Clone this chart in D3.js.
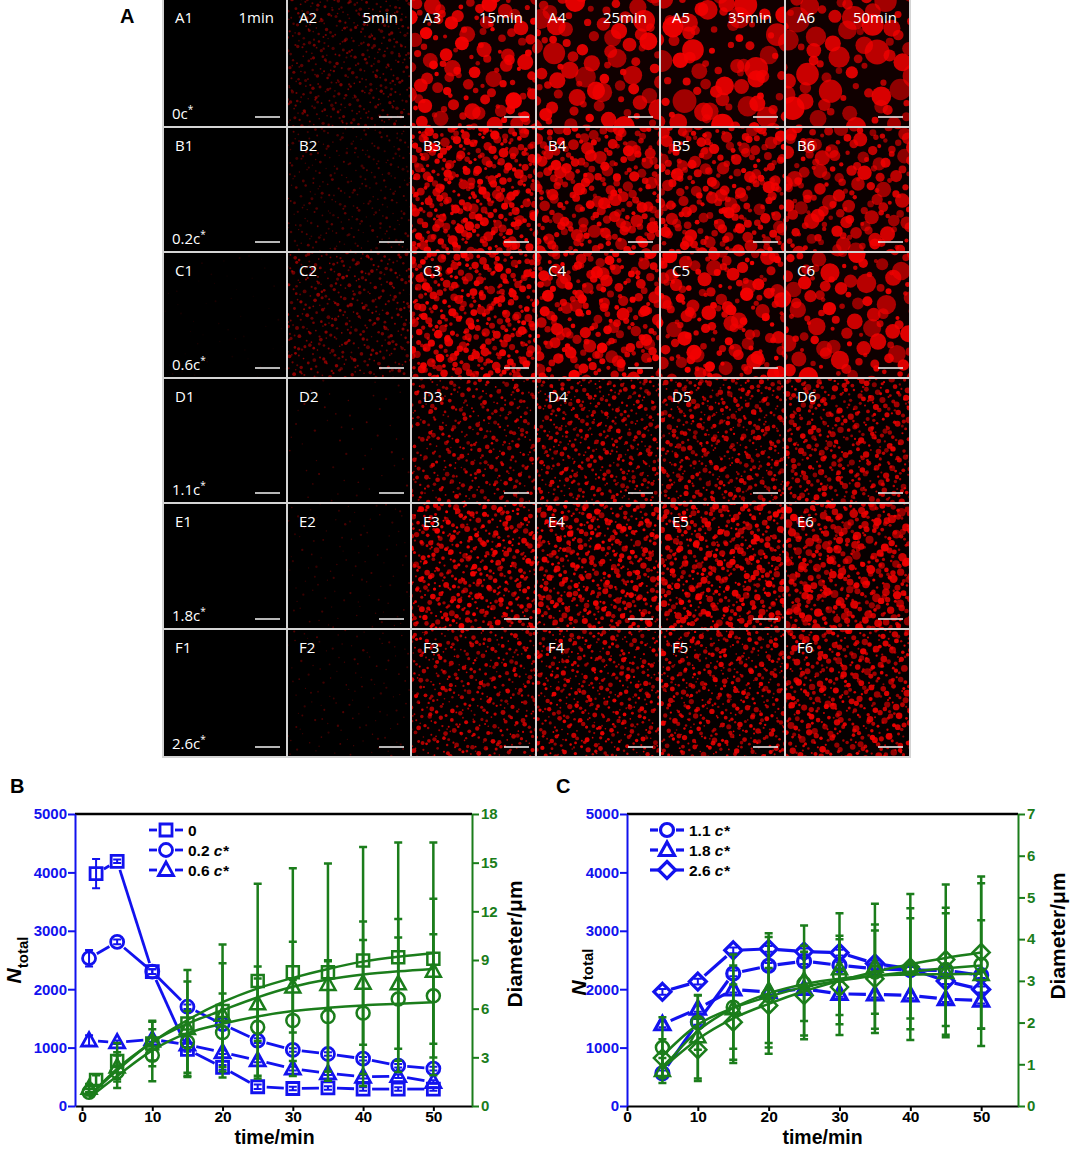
<!DOCTYPE html>
<html><head><meta charset="utf-8">
<script src="https://cdn.jsdelivr.net/npm/d3@7"></script>
<style>body{margin:0;background:#fff}svg{display:block}</style>
</head><body>
<svg id="fig" width="1072" height="1149"></svg>
<script>
// ================= DATA =================
// Panel A (micrographs)
const rowLetters = ["A","B","C","D","E","F"];
const timeLabels = ["1min","5min","15min","25min","35min","50min"];
const concLabels = ["0","0.2","0.6","1.1","1.8","2.6"];
// droplet appearance per image (rows A..F, columns 1..6)
const dropCount = [[0,500,125,85,78,70],[0,350,360,240,230,165],[60,450,380,220,165,105],[0,60,430,520,520,470],[0,120,520,520,520,430],[0,150,470,520,520,470]];
const dropMinR  = [[0,0.8,2,3,3,3],[0,0.7,1.5,2,2,2],[0.5,0.8,1.5,2,2,2],[0,0.7,0.8,0.8,0.8,1],[0,0.6,1,1,1,1.2],[0,0.6,0.8,0.8,0.8,1]];
const dropMaxR  = [[0,1.8,8.5,11,12,13],[0,1.5,5,6.5,6.5,8],[1,2,4.5,6.5,8,10],[0,1.2,2.5,2.5,2.8,3.2],[0,1.2,3,3.2,3.5,4.5],[0,1.2,2.5,2.6,2.8,3.5]];
const dropAlpha = [[0,0.5,1,0.95,0.95,0.9],[0,0.4,1,0.95,0.95,0.9],[0.12,0.6,1,1,1,0.95],[0,0.35,0.85,0.9,0.9,0.9],[0,0.3,1,1,1,0.95],[0,0.35,0.9,0.95,0.95,0.95]];

// Panel B
const tB   = [1,5,10,15,20,25,30,35,40,45,50];
const tB0  = [2,5,10,15,20,25,30,35,40,45,50];
const nB0  = [3980,4190,2300,970,660,330,300,310,290,290,290];
const nB02 = [2530,2810,2300,1700,1400,1120,960,890,810,690,640];
const nB06 = [1120,1090,1140,1050,920,780,640,560,500,510,410];
const nErrB0  = [250,30,40,40,40,40,30,30,30,30,30];
const nErrB02 = [140,40,40,40,40,40,30,30,30,30,30];
const nErrB06 = [90,30,40,40,30,30,30,30,30,30,30];
const dB0  = [1.6,2.78,3.85,5.08,5.85,7.7,8.25,8.25,8.97,9.17,9.07];
const dB02 = [0.85,2.11,3.13,3.95,4.53,4.86,5.27,5.52,5.73,6.59,6.79];
const dB06 = [1.1,2.41,4.0,4.77,5.6,6.3,7.33,7.49,7.57,7.53,8.31];
const dErrB0  = [0.3,1.1,1.4,3.3,4.1,6.0,6.4,6.7,7.0,7.07,7.17];
const dErrB02 = [0.2,1.0,1.6,1.9,2.4,3.0,2.5,3.4,4.5,3.8,3.8];
const dErrB06 = [0.25,0.9,1.2,2.9,3.2,2.3,2.8,1.5,3.8,4.0,4.47];
const fitTB  = [1,5,10,15,20,25,30,35,40,45,50];
const fitB0  = [0.6,2.3,3.94,5.3,6.4,7.25,7.9,8.45,8.9,9.2,9.42];
const fitB02 = [0.5,1.85,3.43,4.49,5.07,5.52,5.85,6.05,6.2,6.3,6.4];
const fitB06 = [0.6,2.2,3.94,5.07,5.9,6.7,7.35,7.8,8.1,8.3,8.45];

// Panel C
const tC   = [5,10,15,20,25,30,35,40,45,50];
const nC11 = [560,1440,2270,2400,2480,2410,2350,2330,2320,2240];
const nC18 = [1400,1665,1995,1950,2005,1920,1910,1895,1830,1805];
const nC26 = [1955,2130,2665,2690,2645,2625,2440,2350,2140,1995];
const nErrC = [50,50,50,50,50,50,50,50,50,50];
const dC11 = [1.40,2.0,2.37,2.65,2.94,3.13,3.21,3.29,3.27,3.39];
const dC18 = [0.85,1.66,2.33,2.77,3.01,3.29,3.35,3.3,3.2,3.15];
const dC26 = [1.15,1.35,2.01,2.41,2.65,2.85,3.05,3.33,3.51,3.68];
const dErrC11 = [0.73,0.65,1.0,1.4,0.9,0.95,1.0,1.45,1.35,1.95];
const dErrC18 = [0.3,1.0,1.3,1.37,1.32,1.33,1.5,1.2,1.55,1.3];
const dErrC26 = [0.45,0.75,0.9,0.9,1.05,1.15,1.3,1.75,1.8,1.82];
const fitC11 = [1.2,1.95,2.35,2.62,2.85,3.0,3.12,3.22,3.3,3.37];
const fitC18 = [0.9,1.8,2.35,2.7,2.92,3.05,3.12,3.15,3.16,3.17];
const fitC26 = [0.9,1.6,2.1,2.45,2.75,3.0,3.22,3.4,3.55,3.68];

const timeTicks = [0,10,20,30,40,50];
const nTicks = [0,1000,2000,3000,4000,5000];
const dTicksB = [0,3,6,9,12,15,18];
const dTicksC = [0,1,2,3,4,5,6,7];

// ================= DRAWING =================
const svg = d3.select("#fig");
const BLUE = "#1212ee", GREEN = "#1b7d1b";
const FONT = "'Liberation Sans', Arial, Helvetica, sans-serif";
const defs = svg.append("defs");

// ---- Panel A ----
const xEdges = [163, 287, 411, 536, 660, 785, 910];
const yEdges = [0, 127, 252, 378, 503, 629, 757];
svg.append("rect").attr("x",xEdges[0]-1).attr("y",0).attr("width",xEdges[6]-xEdges[0]+2).attr("height",yEdges[6]+1).attr("fill","#d4d4d4");

function halton(i, b){ let f=1, r=0; while(i>0){ f/=b; r+=f*(i%b); i=Math.floor(i/b);} return r; }

const gA = svg.append("g");
rowLetters.forEach((L, r) => {
  for (let c = 0; c < 6; c++) {
    const x0 = xEdges[c]+1, x1 = xEdges[c+1]-1, y0 = yEdges[r]+(r===0?0:1), y1 = yEdges[r+1]-1;
    const w = x1-x0, h = y1-y0;
    const id = "clip"+r+"_"+c;
    defs.append("clipPath").attr("id",id).append("rect").attr("x",x0).attr("y",y0).attr("width",w).attr("height",h);
    const cell = gA.append("g");
    cell.append("rect").attr("x",x0).attr("y",y0).attr("width",w).attr("height",h).attr("fill","#000");
    const n = dropCount[r][c];
    if (n > 0) {
      const off = (r*6+c)*1013 + 37;
      const drops = d3.range(n).map(i => {
        const k = i + off;
        return {x: x0 - 6 + halton(k,2)*(w+12), y: y0 - 6 + halton(k,3)*(h+12),
                r: dropMinR[r][c] + (dropMaxR[r][c]-dropMinR[r][c]) * Math.pow(halton(k,5),1.6),
                a: 0.6 + 0.4*halton(k,7)};
      });
      const haze = dropAlpha[r][c] * Math.min(1, dropMaxR[r][c]/12) * 0.15;
      cell.append("rect").attr("x",x0).attr("y",y0).attr("width",w).attr("height",h).attr("fill","#7a0000").attr("opacity",haze);
      cell.append("g").attr("clip-path",`url(#${id})`).selectAll("circle").data(drops).join("circle")
        .attr("cx",d=>d.x).attr("cy",d=>d.y).attr("r",d=>d.r)
        .attr("fill","#f40000").attr("opacity",d=>dropAlpha[r][c]*d.a);
    }
    // label
    cell.append("text").attr("x",x0+11).attr("y",y0+23).attr("fill","#fff")
      .attr("font-family","'Open Sans', 'DejaVu Sans', sans-serif").attr("font-size",15).text(L+(c+1));
    if (r === 0) {
      cell.append("text").attr("x",x1-12).attr("y",y0+23).attr("text-anchor","end").attr("fill","#fff")
        .attr("font-family","'Open Sans', 'DejaVu Sans', sans-serif").attr("font-size",15).text(timeLabels[c]);
    }
    if (c === 0) {
      const t = cell.append("text").attr("x",x0+8).attr("y",y1-7).attr("fill","#fff")
        .attr("font-family","'Open Sans', 'DejaVu Sans', sans-serif").attr("font-size",15);
      t.append("tspan").text(concLabels[r]+"c");
      t.append("tspan").attr("dy",-6).attr("font-size",10).text("*");
    }
    cell.append("line").attr("x1",x1-31).attr("x2",x1-6).attr("y1",y1-9).attr("y2",y1-9)
      .attr("stroke","#e6e6e6").attr("stroke-width",1.6);
  }
});
svg.append("text").attr("x",120).attr("y",23).attr("font-family",FONT).attr("font-weight","bold").attr("font-size",20).text("A");

// ---- Markers ----
function shapePath(s){
  if (s==="square") return "M-6,-6H6V6H-6Z";
  if (s==="circle") return "M6.5,0A6.5,6.5 0 1,1 -6.5,0A6.5,6.5 0 1,1 6.5,0Z";
  if (s==="triangle") return "M0,-8L7.5,5.5L-7.5,5.5Z";
  return "M0,-8.5L8.5,0L0,8.5L-8.5,0Z";
}

function chart(cfg){
  const g = svg.append("g");
  const x = d3.scaleLinear().domain(cfg.xDom).range([cfg.L, cfg.R]);
  const yN = d3.scaleLinear().domain([0,5000]).range([cfg.B, cfg.T]);
  const yD = d3.scaleLinear().domain([0,cfg.dMax]).range([cfg.B, cfg.T]);

  // axes
  const ab = g.append("g").attr("transform",`translate(0,${cfg.B})`)
    .call(d3.axisBottom(x).tickValues(timeTicks).tickFormat(d3.format("d")).tickSize(5).tickSizeOuter(0).tickPadding(0));
  ab.selectAll("path,line").attr("stroke","#000").attr("stroke-width",2);
  ab.selectAll("text").attr("fill","#000").attr("font-family",FONT).attr("font-weight","bold").attr("font-size",15.5);
  g.append("line").attr("x1",cfg.L).attr("x2",cfg.R).attr("y1",cfg.T).attr("y2",cfg.T).attr("stroke","#000").attr("stroke-width",2.5);

  const al = g.append("g").attr("transform",`translate(${cfg.L},0)`)
    .call(d3.axisLeft(yN).tickValues(nTicks).tickFormat(d3.format("d")).tickSize(7).tickSizeOuter(0).tickPadding(1));
  al.selectAll("path,line").attr("stroke",BLUE).attr("stroke-width",2);
  al.selectAll("text").attr("fill",BLUE).attr("font-family",FONT).attr("font-weight","bold").attr("font-size",15);

  const ar = g.append("g").attr("transform",`translate(${cfg.R},0)`)
    .call(d3.axisRight(yD).tickValues(cfg.dTicks).tickFormat(d3.format("d")).tickSize(7).tickSizeOuter(0).tickPadding(2));
  ar.selectAll("path,line").attr("stroke",GREEN).attr("stroke-width",2);
  ar.selectAll("text").attr("fill",GREEN).attr("font-family",FONT).attr("font-weight","bold").attr("font-size",15);

  // axis titles
  g.append("text").attr("x",(cfg.L+cfg.R)/2+cfg.xtDx).attr("y",1144).attr("text-anchor","middle")
    .attr("font-family",FONT).attr("font-weight","bold").attr("font-size",19.5).text("time/min");
  const ny = g.append("text").attr("transform",`translate(${cfg.nx},${cfg.ny}) rotate(-90)`).attr("text-anchor","middle")
    .attr("font-family",FONT).attr("font-weight","bold");
  ny.append("tspan").attr("font-style","italic").attr("font-size",21).text("N");
  ny.append("tspan").attr("font-size",15).attr("dy",7).text("total");
  g.append("text").attr("transform",`translate(${cfg.dx},${cfg.dy}) rotate(-90)`).attr("text-anchor","middle")
    .attr("font-family",FONT).attr("font-weight","bold").attr("font-size",21).text("Diameter/\u03bcm");
  g.append("text").attr("x",cfg.labX).attr("y",793).attr("font-family",FONT).attr("font-weight","bold").attr("font-size",20).text(cfg.label);

  // blue series (N_total)
  cfg.series.forEach(s => {
    const pts = s.t.map((t,i)=>({x:x(t), y:yN(s.n[i]), e:s.nErr[i], v:s.n[i]}));
    const gap = 9;
    for (let i=0;i<pts.length-1;i++){
      const p=pts[i], q=pts[i+1];
      const dx=q.x-p.x, dy=q.y-p.y, d=Math.hypot(dx,dy);
      if (d <= 2*gap+1) continue;
      const ux=dx/d, uy=dy/d;
      g.append("line").attr("x1",p.x+ux*gap).attr("y1",p.y+uy*gap).attr("x2",q.x-ux*gap).attr("y2",q.y-uy*gap)
        .attr("stroke",BLUE).attr("stroke-width",cfg.blueW);
    }
    pts.forEach(p => {
      const yt=yN(p.v+p.e), yb=yN(p.v-p.e);
      g.append("path").attr("d",`M${p.x},${yt}V${yb}M${p.x-4},${yt}H${p.x+4}M${p.x-4},${yb}H${p.x+4}`)
        .attr("stroke",BLUE).attr("stroke-width",2).attr("fill","none");
      g.append("path").attr("transform",`translate(${p.x},${p.y})`).attr("d",shapePath(s.shape))
        .attr("fill","none").attr("stroke",BLUE).attr("stroke-width",cfg.blueW);
    });
  });

  // green series (diameter)
  const line = d3.line().x(d=>x(d[0])).y(d=>yD(d[1])).curve(d3.curveMonotoneX);
  cfg.series.forEach(s => {
    s.t.forEach((t,i) => {
      const xx=x(t), yt=yD(s.d[i]+s.dErr[i]), yb=yD(Math.max(0,s.d[i]-s.dErr[i]));
      g.append("path").attr("d",`M${xx},${yt}V${yb}M${xx-4},${yt}H${xx+4}M${xx-4},${yb}H${xx+4}`)
        .attr("stroke",GREEN).attr("stroke-width",2.5).attr("fill","none");
    });
  });
  cfg.series.forEach(s => {
    g.append("path").attr("d",line(s.fitT.map((t,i)=>[t,s.fit[i]]))).attr("fill","none")
      .attr("stroke",GREEN).attr("stroke-width",2.5);
  });
  cfg.series.forEach(s => {
    s.t.forEach((t,i) => {
      g.append("path").attr("transform",`translate(${x(t)},${yD(s.d[i])})`).attr("d",shapePath(s.shape))
        .attr("fill","none").attr("stroke",GREEN).attr("stroke-width",2.5);
    });
  });

  // legend
  cfg.series.forEach((s,i) => {
    const ly = 830 + i*20, mx = cfg.legX;
    g.append("line").attr("x1",mx-17).attr("x2",mx-9).attr("y1",ly).attr("y2",ly).attr("stroke",BLUE).attr("stroke-width",cfg.blueW);
    g.append("line").attr("x1",mx+9).attr("x2",mx+17).attr("y1",ly).attr("y2",ly).attr("stroke",BLUE).attr("stroke-width",cfg.blueW);
    g.append("path").attr("transform",`translate(${mx},${ly})`).attr("d",shapePath(s.shape)).attr("fill","none")
      .attr("stroke",BLUE).attr("stroke-width",cfg.blueW);
    const t = g.append("text").attr("x",mx+22).attr("y",ly+5.5).attr("font-family",FONT).attr("font-weight","bold").attr("font-size",15.5);
    t.append("tspan").text(s.name);
    if (s.cstar) t.append("tspan").attr("font-style","italic").text(" c*");
  });
}

chart({
  label:"B", labX:10, L:75, R:472, T:814, B:1106, xDom:[-1,55.5], dMax:18, dTicks:dTicksB,
  nx:21, ny:960, dx:522, dy:944, xtDx:1, legX:166, blueW:2.8,
  series:[
    {name:"0", cstar:false, shape:"square", t:tB0, n:nB0, nErr:nErrB0, d:dB0, dErr:dErrB0, fitT:fitTB, fit:fitB0},
    {name:"0.2", cstar:true, shape:"circle", t:tB, n:nB02, nErr:nErrB02, d:dB02, dErr:dErrB02, fitT:fitTB, fit:fitB02},
    {name:"0.6", cstar:true, shape:"triangle", t:tB, n:nB06, nErr:nErrB06, d:dB06, dErr:dErrB06, fitT:fitTB, fit:fitB06}
  ]
});
chart({
  label:"C", labX:556, L:627, R:1018, T:814, B:1106, xDom:[0,55.2], dMax:7, dTicks:dTicksC,
  nx:586, ny:972, dx:1065, dy:936, xtDx:0, legX:667, blueW:3.2,
  series:[
    {name:"1.1", cstar:true, shape:"circle", t:tC, n:nC11, nErr:nErrC, d:dC11, dErr:dErrC11, fitT:tC, fit:fitC11},
    {name:"1.8", cstar:true, shape:"triangle", t:tC, n:nC18, nErr:nErrC, d:dC18, dErr:dErrC18, fitT:tC, fit:fitC18},
    {name:"2.6", cstar:true, shape:"diamond", t:tC, n:nC26, nErr:nErrC, d:dC26, dErr:dErrC26, fitT:tC, fit:fitC26}
  ]
});
</script>
</body></html>
